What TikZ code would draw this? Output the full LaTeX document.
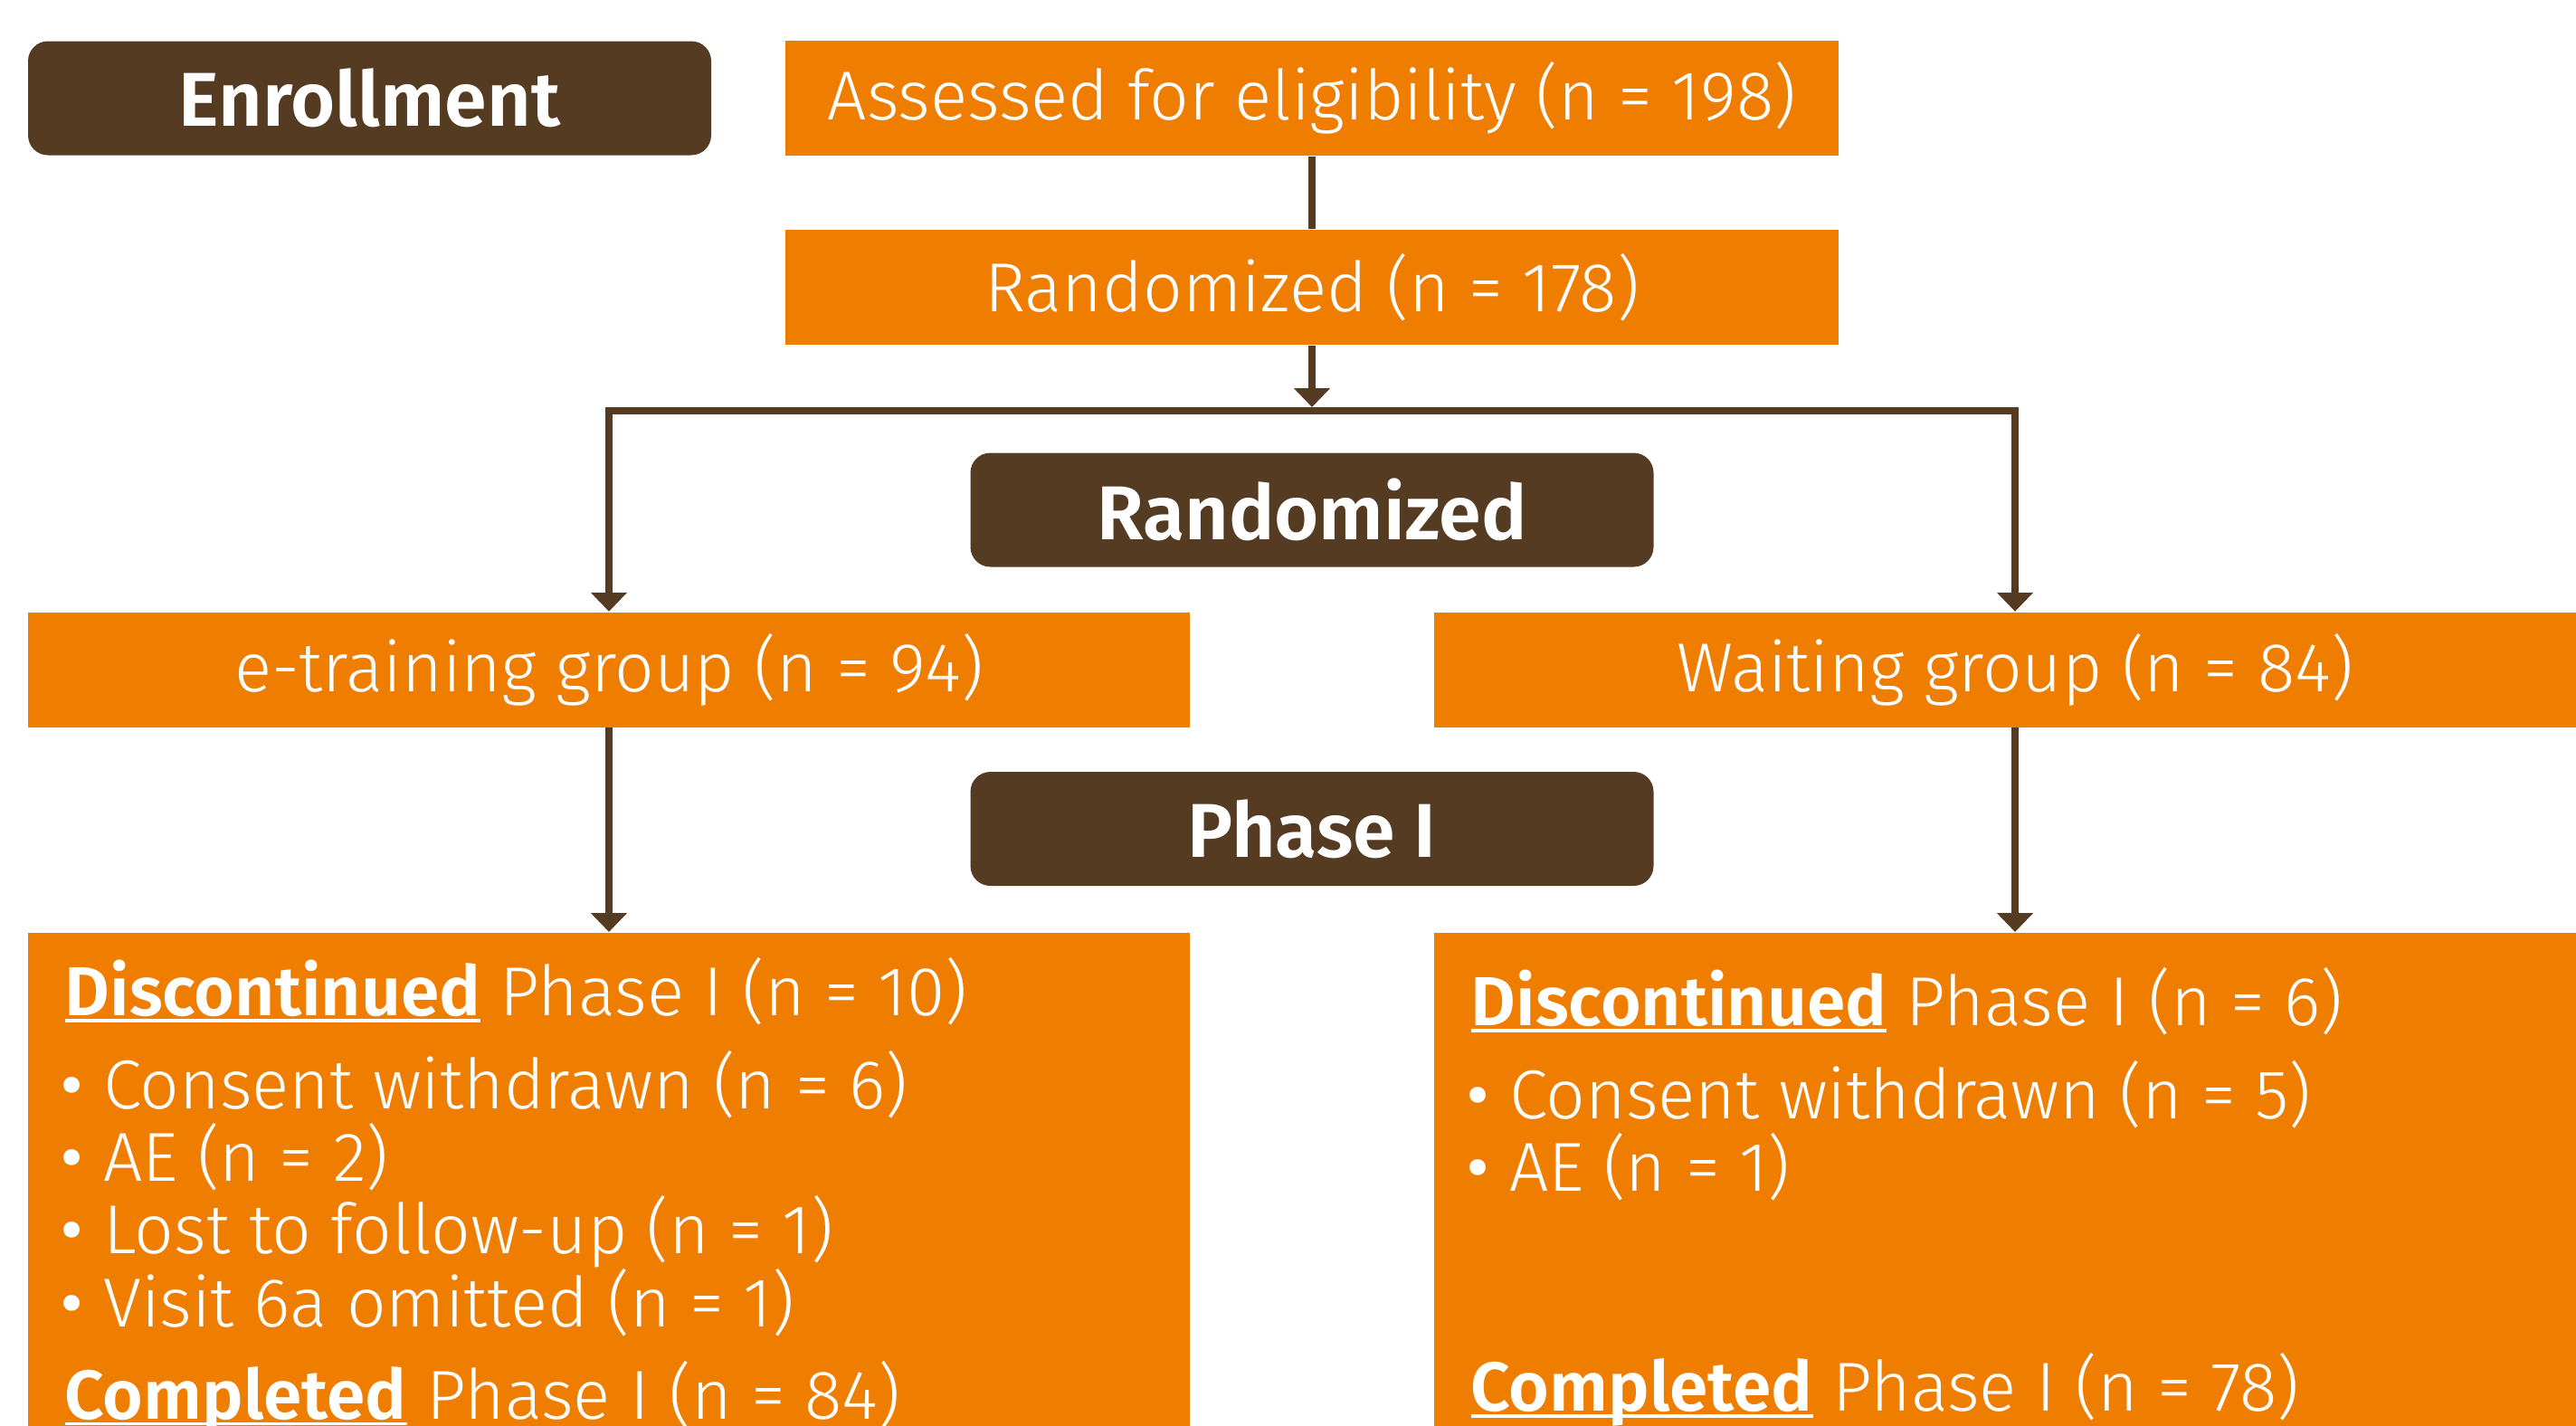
\documentclass[tikz,border=0pt]{standalone}
\usepackage{fontspec}
\IfFontExistsTF{Fira Sans Light}
  {\setmainfont{Fira Sans Light}[BoldFont={Fira Sans SemiBold}]}
  {\setmainfont{Fira Sans}}
\usetikzlibrary{arrows.meta}
\definecolor{flowbrown}{RGB}{86,59,35}
\definecolor{floworange}{RGB}{239,125,0}
\newsavebox{\ulheadbox}
\newcommand{\ulhead}[1]{\sbox{\ulheadbox}{\textbf{#1}}%
  \makebox[0pt][l]{\rule[-2.1pt]{\wd\ulheadbox}{1.1pt}}\usebox{\ulheadbox}}
\newcommand{\itemdot}{\hspace*{-2.6pt}%
  \raisebox{-4.3pt}[0pt][0pt]{\scalebox{1.55}{•}}\hspace{5pt}}

\begin{document}
\begin{tikzpicture}[
  font=\fontsize{21.8}{25}\selectfont,
  flowbox/.style={fill=floworange,text=white,inner sep=0pt,minimum height=1.27cm},
  phase/.style={fill=flowbrown,text=white,rounded corners=0.22cm,inner sep=0pt,
    minimum width=7.55cm,minimum height=1.26cm,font=\fontsize{24}{28}\selectfont\bfseries},
  listline/.style={anchor=base west,text=white,inner sep=0pt},
  conn/.style={draw=flowbrown,line width=0.08cm},
  >={Triangle[width=0.39cm,length=0.21cm]}
]
  \path[use as bounding box,clip] (0,0) rectangle (28.47,-15.75);

  \node[phase] (enroll) at (4.085,-1.085) {Enrollment};
  \node[flowbox,minimum width=11.64cm] (assess) at (14.5,-1.085)
    {Assessed for eligibility (n = 198)};
  \node[flowbox,minimum width=11.64cm] (random) at (14.5,-3.175)
    {Randomized (n = 178)};
  \coordinate (split) at (14.5,-4.54);
  \coordinate (splittip) at (14.5,-4.50);
  \node[phase] (randlabel) at (14.5,-5.635) {Randomized};
  \node[flowbox,minimum width=12.84cm] (etrain) at (6.73,-7.40)
    {e-training group (n = 94)};
  \node[flowbox,minimum width=12.84cm] (waiting) at (22.27,-7.40)
    {Waiting group (n = 84)};
  \node[phase] (phaselabel) at (14.5,-9.16) {Phase I};
  \node[flowbox,minimum width=12.84cm,minimum height=6cm,anchor=north] (dropL)
    at (6.73,-10.30) {};
  \node[flowbox,minimum width=12.84cm,minimum height=6cm,anchor=north] (dropR)
    at (22.27,-10.30) {};

  \draw[conn] (assess) -- (random);
  \draw[conn,->] (random) -- (splittip);
  \draw[conn,->] (split) -| (etrain.north);
  \draw[conn,->] (split) -| (waiting.north);
  \draw[conn,->] (etrain) -- (dropL);
  \draw[conn,->] (waiting) -- (dropR);

  \node[listline] (discL) at (0.71,-11.225)
    {\ulhead{Discontinued} Phase I (n = 10)};
  \node[listline] (consentL) at (0.71,-12.257) {\itemdot Consent withdrawn (n = 6)};
  \node[listline] (aeL) at (0.71,-13.058) {\itemdot AE (n = 2)};
  \node[listline] (lostL) at (0.71,-13.858) {\itemdot Lost to follow-up (n = 1)};
  \node[listline] (visitL) at (0.71,-14.666) {\itemdot Visit 6a omitted (n = 1)};
  \node[listline] (doneL) at (0.71,-15.68)
    {\ulhead{Completed} Phase I (n = 84)};

  \node[listline] (discR) at (16.25,-11.339)
    {\ulhead{Discontinued} Phase I (n = 6)};
  \node[listline] (consentR) at (16.25,-12.364) {\itemdot Consent withdrawn (n = 5)};
  \node[listline] (aeR) at (16.25,-13.164) {\itemdot AE (n = 1)};
  \node[listline] (doneR) at (16.25,-15.591)
    {\ulhead{Completed} Phase I (n = 78)};
\end{tikzpicture}
\end{document}
